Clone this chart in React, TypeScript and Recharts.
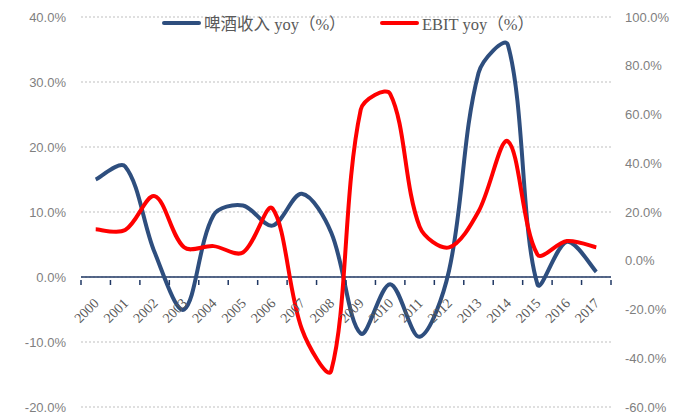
import React from 'react';
import { LineChart, Line, XAxis, YAxis, CartesianGrid, ReferenceLine } from 'recharts';

const years = ['2000', '2001', '2002', '2003', '2004', '2005', '2006', '2007', '2008', '2009', '2010', '2011', '2012', '2013', '2014', '2015', '2016', '2017'];
const beerYoy = [15.0, 17.0, 3.8, -5.0, 9.5, 11.0, 7.9, 12.8, 6.8, -8.7, -1.1, -9.2, 1.0, 31.4, 35.7, -1.1, 5.4, 0.8];
const ebitYoy = [12.9, 12.6, 26.5, 5.5, 6.0, 3.4, 21.5, -28.0, -45.0, 62.0, 68.5, 14.0, 5.5, 20.2, 49.0, 2.6, 8.1, 5.5];
const seriesNames = ['啤酒收入 yoy（%）', 'EBIT yoy（%）'];
const leftTicks = [-20, -10, 0, 10, 20, 30, 40];
const rightTicks = [-60, -40, -20, 0, 20, 40, 60, 80, 100];

const BLUE = '#2E4E7E';
const RED = '#FF0000';
const W = 695;
const H = 414;
const LEFT_W = 81;
const RIGHT_W = 84;
const X_H = 1;
const M = { top: 17, right: 0, bottom: 6, left: 0 };
const PLOT_W = W - LEFT_W - RIGHT_W;
const PLOT_H = H - M.top - M.bottom - X_H;
const BAND = PLOT_W / years.length;
// pixel distance from bottom of plot up to the 0% line of the left axis
const ZERO_UP = PLOT_H * (0 - leftTicks[0]) / (leftTicks[leftTicks.length - 1] - leftTicks[0]);

const data = years.map((year, i) => ({ year, beer: beerYoy[i], ebit: ebitYoy[i] }));

// Excel-like smoothing: Catmull-Rom handles, shortened by segment length
const smoothCurve = (context: any) => {
  let pts: number[][] = [];
  const dist = (a: number[], b: number[]) => Math.hypot(b[0] - a[0], b[1] - a[1]) || 1;
  return {
    areaStart() {},
    areaEnd() {},
    lineStart() { pts = []; },
    point(x: number, y: number) { pts.push([+x, +y]); },
    lineEnd() {
      if (!pts.length) return;
      context.moveTo(pts[0][0], pts[0][1]);
      for (let i = 0; i < pts.length - 1; i++) {
        const p0 = pts[Math.max(i - 1, 0)];
        const p1 = pts[i];
        const p2 = pts[i + 1];
        const p3 = pts[Math.min(i + 2, pts.length - 1)];
        const d01 = i === 0 ? dist(p1, p2) : dist(p0, p1);
        const d12 = dist(p1, p2);
        const d23 = i + 2 > pts.length - 1 ? dist(p1, p2) : dist(p2, p3);
        const f1 = d12 / (d01 + d12) / 3;
        const f2 = d12 / (d12 + d23) / 3;
        context.bezierCurveTo(
          p1[0] + (p2[0] - p0[0]) * f1, p1[1] + (p2[1] - p0[1]) * f1,
          p2[0] - (p3[0] - p1[0]) * f2, p2[1] - (p3[1] - p1[1]) * f2,
          p2[0], p2[1]
        );
      }
    },
  };
};

const pct = (v: number) => `${v.toFixed(1)}%`;

const YearTick = (props: any) => {
  const { x, y, payload, index } = props;
  // y arrives at the bottom of the plot; move up to the zero line
  const y0 = y - ZERO_UP;
  const tx = x + 4;
  const ty = y0 + 19;
  return (
    <g>
      <line x1={x - BAND / 2} x2={x - BAND / 2} y1={y0 - 5} y2={y0} stroke="#203864" strokeWidth={1.5} />
      {index === years.length - 1 && (
        <line x1={x + BAND / 2} x2={x + BAND / 2} y1={y0 - 5} y2={y0} stroke="#203864" strokeWidth={1.5} />
      )}
      <text
        x={tx}
        y={ty}
        textAnchor="end"
        transform={`rotate(-45, ${tx}, ${ty})`}
        fontFamily="'Liberation Serif', 'Times New Roman', serif"
        fontSize={14}
        fill="#595959"
      >
        {payload.value}
      </text>
    </g>
  );
};

const LegendItem = ({ color, name, left }: { color: string; name: string; left: number }) => (
  <div style={{ position: 'absolute', left, top: 11, display: 'flex', alignItems: 'center', whiteSpace: 'nowrap' }}>
    <div style={{ width: 39, height: 4, background: color, borderRadius: 2, marginRight: 3 }} />
    <span style={{ fontFamily: "'Liberation Serif', 'Noto Sans CJK SC', serif", fontSize: 16.5, color: '#595959' }}>{name}</span>
  </div>
);

export default function App() {
  return (
    <div style={{ position: 'absolute', left: 0, top: 0, width: W, height: H, background: '#fff' }}>
      <LineChart width={W} height={H} data={data} margin={M} style={{ overflow: 'visible' }}>
        <CartesianGrid yAxisId="left" vertical={false} stroke="#BFBFBF" strokeDasharray="2 2" />
        <XAxis
          dataKey="year"
          interval={0}
          height={X_H}
          padding={{ left: BAND / 2, right: BAND / 2 }}
          axisLine={false}
          tickLine={false}
          tick={<YearTick />}
        />
        <YAxis
          yAxisId="left"
          width={LEFT_W}
          domain={[leftTicks[0], leftTicks[leftTicks.length - 1]]}
          ticks={leftTicks}
          interval={0}
          tickFormatter={pct}
          axisLine={false}
          tickLine={false}
          tickMargin={9}
          tick={{ fill: '#7F7F7F', fontSize: 13, fontFamily: "'Liberation Sans', Arial, sans-serif" }}
        />
        <YAxis
          yAxisId="right"
          orientation="right"
          width={RIGHT_W}
          domain={[rightTicks[0], rightTicks[rightTicks.length - 1]]}
          ticks={rightTicks}
          interval={0}
          tickFormatter={pct}
          axisLine={false}
          tickLine={false}
          tickMargin={8}
          tick={{ fill: '#7F7F7F', fontSize: 13, fontFamily: "'Liberation Sans', Arial, sans-serif" }}
        />
        <ReferenceLine yAxisId="left" y={0} stroke="#203864" strokeWidth={1.5} />
        <Line yAxisId="left" dataKey="beer" name={seriesNames[0]} type={smoothCurve as any} stroke={BLUE} strokeWidth={4} dot={false} isAnimationActive={false} />
        <Line yAxisId="right" dataKey="ebit" name={seriesNames[1]} type={smoothCurve as any} stroke={RED} strokeWidth={4} dot={false} isAnimationActive={false} />
      </LineChart>
      <LegendItem color={BLUE} name={seriesNames[0]} left={162} />
      <LegendItem color={RED} name={seriesNames[1]} left={380} />
    </div>
  );
}
